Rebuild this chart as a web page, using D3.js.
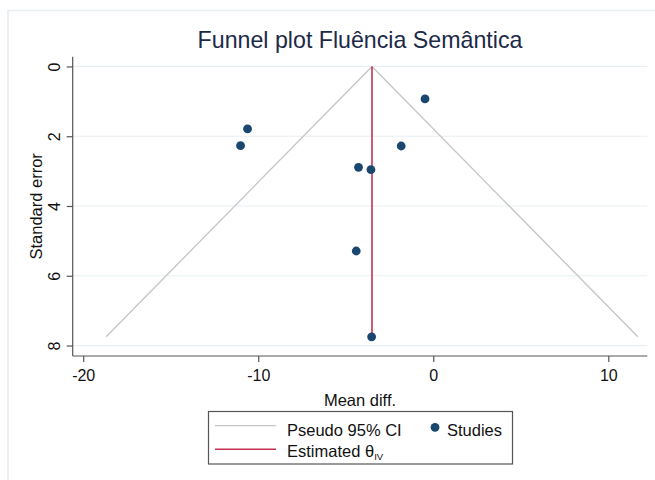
<!DOCTYPE html>
<html>
<head>
<meta charset="utf-8">
<script src="https://cdn.jsdelivr.net/npm/d3@7"></script>
<style>
  html, body { margin: 0; padding: 0; background: #ffffff; }
  svg { display: block; font-family: "Liberation Sans", Arial, Helvetica, sans-serif; }
</style>
</head>
<body>
<svg id="chart" width="655" height="480"></svg>
<script>
// Study effects (mean difference) and their standard errors
const studyLabels = ["1", "2", "3", "4", "5", "6", "7", "8"];
const meanDiff = [-0.47, -10.61, -11.01, -1.83, -4.27, -3.56, -4.40, -3.52];
const stdErr   = [0.93, 1.79, 2.27, 2.28, 2.89, 2.96, 5.29, 7.75];
// Pooled inverse-variance estimate
const thetaIV = -3.50;
const xTicks = [-20, -10, 0, 10];
const yTicks = [0, 2, 4, 6, 8];
const z975 = 1.96;

// Plain hyphen-minus tick labels
const fmt = d => String(d);

const svg = d3.select("#chart");

// Graph region frame (light border)
svg.append("rect")
  .attr("x", 8).attr("y", 10.5)
  .attr("width", 680).attr("height", 500)
  .attr("fill", "#ffffff")
  .attr("stroke", "#e6eef1")
  .attr("stroke-width", 1.5);

const plot = { left: 72.7, right: 647.3, top: 56.7, bottom: 356 };

const x = d3.scaleLinear().domain([-20.6, 12.23]).range([plot.left, plot.right]);
const y = d3.scaleLinear().domain([-0.28, 8.30]).range([plot.top, plot.bottom]);

// Horizontal grid lines
svg.append("g").selectAll("line")
  .data(yTicks)
  .join("line")
  .attr("x1", plot.left).attr("x2", plot.right)
  .attr("y1", d => y(d)).attr("y2", d => y(d))
  .attr("stroke", "#e8f0f3")
  .attr("stroke-width", 1.2);

// Pseudo 95% confidence limits around the pooled estimate
const seMax = d3.max(stdErr);
const lowerCI = [[thetaIV, 0], [thetaIV - z975 * seMax, seMax]];
const upperCI = [[thetaIV, 0], [thetaIV + z975 * seMax, seMax]];
const line = d3.line().x(d => x(d[0])).y(d => y(d[1]));
[lowerCI, upperCI].forEach(seg => {
  svg.append("path")
    .attr("d", line(seg))
    .attr("fill", "none")
    .attr("stroke", "#c4c4c4")
    .attr("stroke-width", 1.3);
});

// Estimated theta line
svg.append("line")
  .attr("x1", x(thetaIV)).attr("x2", x(thetaIV))
  .attr("y1", y(0)).attr("y2", y(seMax))
  .attr("stroke", "#c4304f")
  .attr("stroke-width", 1.6);

// Study points
svg.append("g").selectAll("circle")
  .data(studyLabels.map((s, i) => ({ s, md: meanDiff[i], se: stdErr[i] })))
  .join("circle")
  .attr("cx", d => x(d.md))
  .attr("cy", d => y(d.se))
  .attr("r", 4.4)
  .attr("fill", "#1a476f");

// Y axis
const yAxis = svg.append("g")
  .attr("transform", `translate(${plot.left},0)`)
  .call(d3.axisLeft(y).tickValues(yTicks).tickSize(6).tickPadding(6).tickFormat(fmt));
yAxis.select(".domain").attr("stroke", "#555").attr("stroke-width", 1.2)
  .attr("d", `M0,${plot.top}V${plot.bottom}`);
yAxis.selectAll(".tick line").attr("stroke", "#555").attr("stroke-width", 1.2);
yAxis.selectAll(".tick text")
  .attr("font-size", 16)
  .attr("fill", "#111")
  .attr("x", null).attr("dy", null)
  .attr("text-anchor", "middle")
  .attr("transform", "translate(-13,0) rotate(-90)");

// X axis
const xAxis = svg.append("g")
  .attr("transform", `translate(0,${plot.bottom})`)
  .call(d3.axisBottom(x).tickValues(xTicks).tickSize(6).tickPadding(4).tickFormat(fmt));
xAxis.select(".domain").attr("stroke", "#555").attr("stroke-width", 1.2)
  .attr("d", `M${plot.left},0H${plot.right}`);
xAxis.selectAll(".tick line").attr("stroke", "#555").attr("stroke-width", 1.2);
xAxis.selectAll(".tick text")
  .attr("font-size", 16)
  .attr("fill", "#111")
  .attr("y", null).attr("dy", null)
  .attr("transform", "translate(0,25)");

// Axis titles
svg.append("text")
  .attr("x", (plot.left + plot.right) / 2).attr("y", 406)
  .attr("text-anchor", "middle")
  .attr("font-size", 16.5)
  .attr("fill", "#111")
  .text("Mean diff.");

svg.append("text")
  .attr("transform", `translate(42,${(plot.top + plot.bottom) / 2}) rotate(-90)`)
  .attr("text-anchor", "middle")
  .attr("font-size", 16.5)
  .attr("fill", "#111")
  .text("Standard error");

// Title
svg.append("text")
  .attr("x", (plot.left + plot.right) / 2).attr("y", 48)
  .attr("text-anchor", "middle")
  .attr("font-size", 23.2)
  .attr("fill", "#1c2a48")
  .text("Funnel plot Fluência Semântica");

// Legend
const lg = svg.append("g");
lg.append("rect")
  .attr("x", 208.5).attr("y", 411.5)
  .attr("width", 304).attr("height", 52.5)
  .attr("fill", "#fff")
  .attr("stroke", "#555")
  .attr("stroke-width", 1.2);
lg.append("line")
  .attr("x1", 215).attr("x2", 276).attr("y1", 425.7).attr("y2", 425.7)
  .attr("stroke", "#c4c4c4").attr("stroke-width", 1.3);
lg.append("line")
  .attr("x1", 215).attr("x2", 276).attr("y1", 449.3).attr("y2", 449.3)
  .attr("stroke", "#c4304f").attr("stroke-width", 1.6);
lg.append("text")
  .attr("x", 287).attr("y", 436)
  .attr("font-size", 16.5).attr("fill", "#111")
  .text("Pseudo 95% CI");
const est = lg.append("text")
  .attr("x", 287).attr("y", 457)
  .attr("font-size", 16.5).attr("fill", "#111");
est.append("tspan").text("Estimated θ");
est.append("tspan").attr("font-size", 9.5).attr("dy", 3).text("IV");
lg.append("circle")
  .attr("cx", 435).attr("cy", 427.3).attr("r", 4.4)
  .attr("fill", "#1a476f");
lg.append("text")
  .attr("x", 447).attr("y", 436)
  .attr("font-size", 16.5).attr("fill", "#111")
  .text("Studies");
</script>
</body>
</html>
